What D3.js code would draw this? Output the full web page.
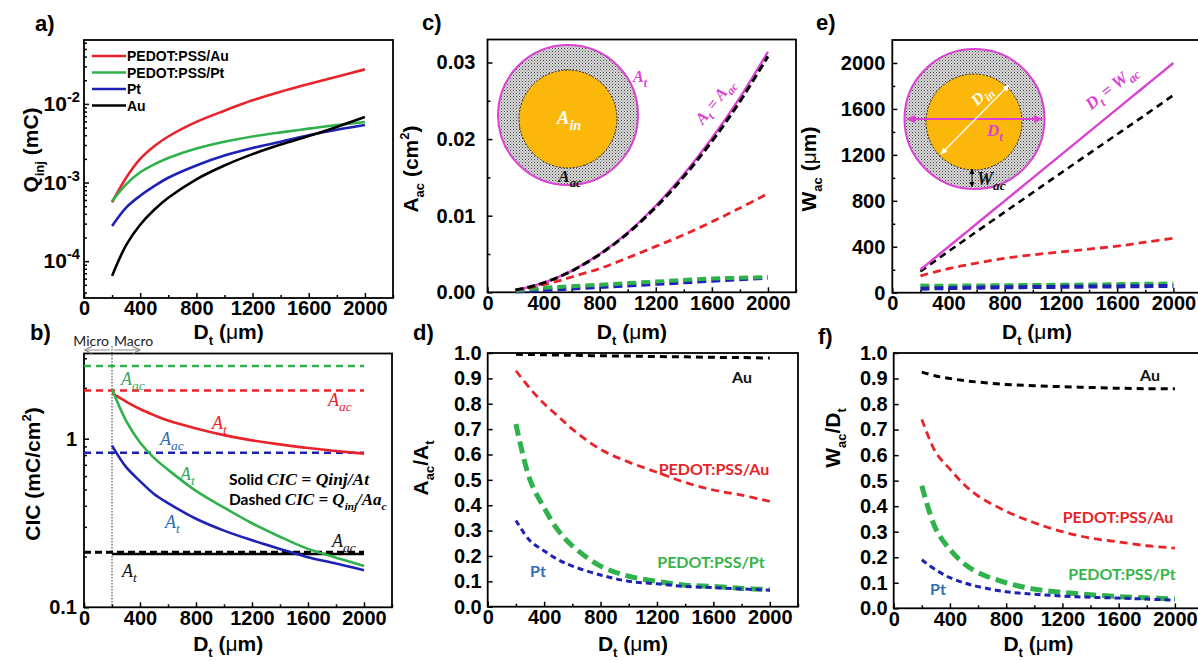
<!DOCTYPE html>
<html><head><meta charset="utf-8">
<script src="https://cdn.jsdelivr.net/npm/d3@7"></script>
<style>body{margin:0;background:#fff} svg{display:block}</style>
</head><body><script>
// ---------- data ----------
const D = [200,300,400,500,600,800,1000,1200,1400,1600,1800,2000];
const Dfull = [0, 2000];
const xMajor = [0,400,800,1200,1600,2000];
const xMinor = [200,600,1000,1400,1800,2200];

// a) injected charge Q_inj (mC)
const qRed   = [5.6e-4,1.15e-3,2.0e-3,2.9e-3,3.85e-3,5.9e-3,8.2e-3,1.11e-2,1.43e-2,1.79e-2,2.22e-2,2.75e-2];
const qGreen = [5.8e-4,9.5e-4,1.35e-3,1.7e-3,2.05e-3,2.7e-3,3.3e-3,3.85e-3,4.35e-3,4.85e-3,5.4e-3,5.9e-3];
const qBlue  = [2.8e-4,4.8e-4,6.8e-4,9.0e-4,1.15e-3,1.65e-3,2.2e-3,2.75e-3,3.3e-3,4.0e-3,4.7e-3,5.4e-3];
const qBlack = [6.5e-5,1.6e-4,2.9e-4,4.5e-4,6.4e-4,1.1e-3,1.65e-3,2.3e-3,3.05e-3,3.9e-3,5.1e-3,6.8e-3];
const legendNames = ["PEDOT:PSS/Au","PEDOT:PSS/Pt","Pt","Au"];
const qTicks = [1e-4,1e-3,1e-2];

// b) CIC (mC/cm2): solid = per total area, dashed = per active area
const cicRed   = [1.86,1.66,1.50,1.38,1.28,1.15,1.05,0.977,0.925,0.88,0.845,0.815];
const cicGreen = [1.97,1.28,0.95,0.77,0.655,0.49,0.39,0.315,0.262,0.222,0.197,0.176];
const cicBlue  = [0.91,0.68,0.56,0.47,0.415,0.335,0.285,0.25,0.222,0.198,0.182,0.166];
const cicBlack = [0.207,0.207,0.207,0.207,0.207,0.207,0.207,0.207,0.207,0.207,0.207,0.207];
const cicAcGreen = [2.7, 2.7];
const cicAcRed   = [1.93, 1.93];
const cicAcBlue  = [0.826, 0.826];
const cicAcBlack = [0.212, 0.212];
const cicTicks = [0.1, 1];

// c) active area A_ac (cm2)
const aTotal = [0.0003,0.0007,0.00125,0.00195,0.0028,0.005,0.0078,0.0113,0.0154,0.0201,0.0254,0.0314];
const aAu    = [0.0003,0.0007,0.00124,0.00193,0.00277,0.00495,0.0077,0.0111,0.0151,0.0197,0.0249,0.0308];
const aRed   = [0.0003,0.0006,0.001,0.00145,0.002,0.0031,0.0045,0.006,0.0075,0.0092,0.011,0.0129];
const aGreen = [0.0002,0.0004,0.0006,0.0007,0.0008,0.001,0.0012,0.0014,0.0016,0.0018,0.0019,0.002];
const aBlue  = [0.0001,0.0002,0.0003,0.0004,0.0005,0.0007,0.0009,0.0011,0.0013,0.0015,0.0017,0.0019];
const aTicks = [0, 0.01, 0.02, 0.03];

// d) A_ac / A_t
const rAu    = [0.995,0.994,0.993,0.992,0.991,0.989,0.988,0.986,0.985,0.983,0.982,0.98];
const rRed   = [0.93,0.86,0.80,0.75,0.70,0.62,0.57,0.53,0.49,0.46,0.44,0.415];
const rGreen = [0.72,0.50,0.39,0.30,0.24,0.16,0.12,0.10,0.085,0.08,0.072,0.068];
const rBlue  = [0.34,0.26,0.22,0.185,0.16,0.125,0.10,0.09,0.08,0.075,0.07,0.065];
const ratioTicks = [0,0.1,0.2,0.3,0.4,0.5,0.6,0.7,0.8,0.9,1.0];

// e) active width W_ac (um)
const wTotal = [200,300,400,500,600,800,1000,1200,1400,1600,1800,2000];
const wAu    = [185,273,360,446,532,702,872,1042,1211,1379,1548,1720];
const wRed   = [146,180,210,235,258,300,330,355,380,405,440,474];
const wGreen = [62,60,60,62,63,65,67,69,71,74,77,80];
const wBlue  = [35,38,40,42,44,47,49,51,53,55,57,58];
const wTicks = [0,400,800,1200,1600,2000];

// f) W_ac / D_t
const fAu    = [0.925,0.91,0.90,0.892,0.886,0.877,0.872,0.868,0.865,0.862,0.86,0.86];
const fRed   = [0.74,0.61,0.545,0.485,0.44,0.38,0.335,0.30,0.275,0.26,0.245,0.236];
const fGreen = [0.48,0.31,0.23,0.175,0.14,0.10,0.075,0.062,0.053,0.046,0.041,0.036];
const fBlue  = [0.19,0.15,0.12,0.10,0.085,0.065,0.055,0.048,0.043,0.04,0.036,0.032];

// ---------- styles ----------
const SANS = "'Liberation Sans', Arial, sans-serif";
const SERIF = "'Liberation Serif', 'Times New Roman', serif";
const NOTE = "Lato, 'Open Sans', sans-serif";
const RED = "#e8232a", GREEN = "#2fb24c", BLUE = "#1e22b4", BLACK = "#000", PINK = "#d942d2";
const LBLUE = "#2f6db5", LGREEN = "#36b54a";
const TICK = 20;

const svg = d3.select("body").append("svg").attr("width",1198).attr("height",661);
const defs = svg.append("defs");

// stippled ring texture
const pat = defs.append("pattern").attr("id","stipple").attr("width",3).attr("height",3)
  .attr("patternUnits","userSpaceOnUse");
pat.append("rect").attr("width",3).attr("height",3).attr("fill","#d8d8d8");
pat.append("rect").attr("x",0).attr("y",0).attr("width",1).attr("height",1).attr("fill","#444");
pat.append("rect").attr("x",1.5).attr("y",1.5).attr("width",1).attr("height",1).attr("fill","#777");

function marker(id, color, open, size) {
  const m = defs.append("marker").attr("id",id).attr("viewBox","0 0 10 10")
    .attr("refX",9).attr("refY",5).attr("markerWidth",size).attr("markerHeight",size)
    .attr("markerUnits","userSpaceOnUse").attr("orient","auto-start-reverse");
  if (open) m.append("path").attr("d","M1,1 L9,5 L1,9").attr("fill","none").attr("stroke",color).attr("stroke-width",1.3);
  else m.append("path").attr("d","M0,0.5 L10,5 L0,9.5 Z").attr("fill",color);
}
marker("arrGray","#8a8a8a",true,9);
marker("arrPink",PINK,false,9);
marker("arrWhite","#fff",false,7);
marker("arrBlack","#000",false,6);

// text with sub/superscripts
function rich(parent, x, y, segs, o = {}) {
  const size = o.size || 19;
  const t = parent.append("text").attr("x",x).attr("y",y)
    .attr("font-family",o.family || SANS).attr("font-size",size)
    .attr("font-weight",o.weight || "bold").attr("fill",o.fill || "#000")
    .attr("text-anchor",o.anchor || "start");
  if (o.italic) t.attr("font-style","italic");
  if (o.rotate != null) t.attr("transform",`rotate(${o.rotate},${x},${y})`);
  let shift = 0;
  segs.forEach(s => {
    if (typeof s === "string") s = {t:s};
    const target = s.sub ? size*0.3 : s.sup ? -size*0.42 : 0;
    const ts = t.append("tspan").text(s.t);
    if (target !== shift) ts.attr("dy", target - shift);
    shift = target;
    if (s.sub || s.sup) ts.attr("font-size", size*(s.scale || 0.62));
    if (s.size) ts.attr("font-size", s.size);
    if (s.family) ts.attr("font-family", s.family);
    if (s.weight) ts.attr("font-weight", s.weight);
    if (s.italic) ts.attr("font-style","italic");
    if (s.fill) ts.attr("fill", s.fill);
  });
  return t;
}

function styleAxis(s) {
  s.select(".domain").remove();
  s.selectAll("line").attr("stroke","#000").attr("stroke-width",1.5);
  s.selectAll("text").attr("font-family",SANS).attr("font-size",TICK)
    .attr("font-weight","bold").attr("fill","#000");
}

function panel(box, y, yMajor, yMinor, yFmt, yPad) {
  const g = svg.append("g");
  const x = d3.scaleLinear().domain([0,2200]).range([box.l, box.r]);
  g.append("g").attr("transform",`translate(0,${box.b})`)
    .call(d3.axisBottom(x).tickValues(xMajor).tickSize(-5).tickPadding(3).tickFormat(d3.format("d")))
    .call(styleAxis);
  g.append("g").attr("transform",`translate(0,${box.b})`)
    .call(d3.axisBottom(x).tickValues(xMinor).tickSize(-3).tickFormat(""))
    .call(styleAxis);
  g.append("g").attr("transform",`translate(${box.l},0)`)
    .call(d3.axisLeft(y).tickValues(yMajor).tickSize(-5).tickPadding(yPad || 7).tickFormat(yFmt || ""))
    .call(styleAxis);
  if (yMinor) g.append("g").attr("transform",`translate(${box.l},0)`)
    .call(d3.axisLeft(y).tickValues(yMinor).tickSize(-3).tickFormat(""))
    .call(styleAxis);
  g.append("rect").attr("x",box.l).attr("y",box.t).attr("width",box.r-box.l).attr("height",box.b-box.t)
    .attr("fill","none").attr("stroke","#000").attr("stroke-width",1.8);
  return {g, x, y, box};
}

function curve(p, xs, ys, color, width, dash) {
  const ln = d3.line().x(d => p.x(d[0])).y(d => p.y(d[1])).curve(d3.curveCatmullRom.alpha(0.5));
  const path = p.g.append("path").datum(d3.zip(xs, ys)).attr("d", ln)
    .attr("fill","none").attr("stroke",color).attr("stroke-width",width)
    .attr("stroke-linecap","butt");
  if (dash) path.attr("stroke-dasharray", dash);
  return path;
}

function xTitle(p, yBase) {
  rich(svg, p.x(1030), yBase, ["D", {t:"t", sub:true}, " (", {t:"\u03BC", weight:"normal"}, "m)"],
    {anchor:"middle", size:21});
}
function yTitle(xBase, yc, segs) {
  rich(svg, xBase, yc, segs, {anchor:"middle", size:21, rotate:-90});
}
function letter(x, y, s) {
  svg.append("text").attr("x",x).attr("y",y).text(s).attr("font-family",SANS)
    .attr("font-size",22).attr("font-weight","bold");
}

// ---------- a) Q_inj ----------
const yA = d3.scaleLog().domain([3.4e-5, 0.065]).range([298, 40]);
const qMinor = [];
[-5,-4,-3,-2].forEach(e => d3.range(2,10).forEach(m => {
  const v = m * Math.pow(10, e);
  if (v > 3.4e-5 && v < 0.065) qMinor.push(v);
}));
const pA = panel({l:84, r:393, t:40, b:298}, yA, qTicks, qMinor, () => "");
qTicks.forEach(v => {
  rich(svg, 80, yA(v) + 7, ["10", {t:"-" + Math.round(-Math.log10(v)), sup:true, scale:0.7}],
    {anchor:"end", size:21});
});
curve(pA, D, qRed, RED, 2.6);
curve(pA, D, qGreen, GREEN, 2.6);
curve(pA, D, qBlue, BLUE, 2.6);
curve(pA, D, qBlack, BLACK, 2.6);
// legend
[RED, GREEN, BLUE, BLACK].forEach((c, i) => {
  const yy = 56 + i * 16.5;
  pA.g.append("line").attr("x1",92).attr("x2",126).attr("y1",yy).attr("y2",yy)
    .attr("stroke",c).attr("stroke-width",2.6);
  pA.g.append("text").attr("x",127).attr("y",yy + 5).text(legendNames[i])
    .attr("font-family",SANS).attr("font-weight","bold").attr("font-size",14);
});
xTitle(pA, 339);
yTitle(38, 150, ["Q", {t:"inj", sub:true}, " (mC)"]);
letter(35, 31, "a)");

// ---------- b) CIC ----------
const yB = d3.scaleLog().domain([0.1, 3.2]).range([607.3, 353.5]);
const pB = panel({l:84, r:392, t:353.5, b:607.3}, yB, cicTicks, [0.2,0.3,0.4,0.5,0.6,0.7,0.8,0.9,2,3],
  d => d === 1 ? "1" : "0.1");
// micro / macro boundary
pB.g.append("line").attr("x1",pB.x(200)).attr("x2",pB.x(200)).attr("y1",346).attr("y2",607)
  .attr("stroke","#333").attr("stroke-width",1).attr("stroke-dasharray","1.5,1.5");
pB.g.append("line").attr("x1",pB.x(185)).attr("x2",pB.x(5)).attr("y1",350).attr("y2",350)
  .attr("stroke","#8a8a8a").attr("stroke-width",1).attr("marker-end","url(#arrGray)");
pB.g.append("line").attr("x1",pB.x(215)).attr("x2",pB.x(400)).attr("y1",350).attr("y2",350)
  .attr("stroke","#8a8a8a").attr("stroke-width",1).attr("marker-end","url(#arrGray)");
svg.append("text").attr("x",109).attr("y",346).attr("text-anchor","end").text("Micro")
  .attr("font-family",NOTE).attr("font-size",14).attr("fill","#222");
svg.append("text").attr("x",114).attr("y",346).text("Macro")
  .attr("font-family",NOTE).attr("font-size",14).attr("fill","#222");
curve(pB, Dfull, cicAcGreen, GREEN, 2.5, "7,5");
curve(pB, Dfull, cicAcRed, RED, 2.5, "7,5");
curve(pB, Dfull, cicAcBlue, BLUE, 2.5, "7,5");
curve(pB, D, cicBlack, BLACK, 2.6);
curve(pB, Dfull, cicAcBlack, BLACK, 3, "7,4");
curve(pB, D, cicRed, RED, 2.6);
curve(pB, D, cicBlue, BLUE, 2.6);
curve(pB, D, cicGreen, GREEN, 2.6);
const mathLbl = (x, y, sub, fill) =>
  rich(svg, x, y, ["A", {t:sub, sub:true, scale:0.75}], {family:SERIF, italic:true, weight:"normal", size:18, fill});
mathLbl(121, 385, "ac", "#3aa665");
mathLbl(328, 406, "ac", RED);
mathLbl(212, 429, "t", RED);
mathLbl(160, 445, "ac", LBLUE);
mathLbl(180, 480, "t", "#3aa665");
mathLbl(165, 528, "t", LBLUE);
mathLbl(332, 547, "ac", "#111");
mathLbl(122, 577, "t", "#111");
rich(svg, 229, 485, [{t:"Solid  ", family:NOTE},
  {t:"CIC = Qinj/At", family:SERIF, italic:true, size:17.5}], {size:15.5});
rich(svg, 229, 505, [{t:"Dashed ", family:NOTE},
  {t:"CIC = Q", family:SERIF, italic:true, size:17}, {t:"inj", sub:true, family:SERIF, italic:true, scale:0.72},
  {t:"/Aa", family:SERIF, italic:true, size:17}, {t:"c", sub:true, family:SERIF, italic:true, scale:0.72}], {size:15.5});
yTitle(40, 474, ["CIC (mC/cm", {t:"2", sup:true}, ")"]);
letter(30, 340, "b)");
xTitle(pB, 651);

// ---------- c) A_ac ----------
const yC = d3.scaleLinear().domain([0, 0.033]).range([292.3, 39.5]);
const pC = panel({l:487.5, r:796, t:39.5, b:292.3}, yC, aTicks,
  [0.005,0.015,0.025], d3.format(".2f"), 12);
// inset: electrode cross-section
pC.g.append("circle").attr("cx",568).attr("cy",115).attr("r",70)
  .attr("fill","url(#stipple)").attr("stroke",PINK).attr("stroke-width",2);
pC.g.append("circle").attr("cx",568).attr("cy",119).attr("r",49)
  .attr("fill","#fbb70a").attr("stroke","#222").attr("stroke-width",1).attr("stroke-dasharray","2,1.5");
rich(svg, 569, 124, ["A", {t:"in", sub:true, scale:0.75}], {family:SERIF, italic:true, size:19, fill:"#fff", anchor:"middle"});
rich(svg, 633, 82, ["A", {t:"t", sub:true, scale:0.75}], {family:SERIF, italic:true, size:16, fill:PINK});
rich(svg, 570, 182, ["A", {t:"ac", sub:true, scale:0.75}], {family:SERIF, italic:true, size:17, fill:"#111", anchor:"middle"});
curve(pC, D, aBlue, BLUE, 4, "9,5");
curve(pC, D, aGreen, GREEN, 4, "9,5");
curve(pC, D, aRed, RED, 2.8, "8,5");
curve(pC, D, aTotal, PINK, 2.4);
curve(pC, D, aAu, BLACK, 3, "8,4");
rich(svg, pC.x(1650), pC.y(0.0245), ["A", {t:"t", sub:true, scale:0.75}, " = A", {t:"ac", sub:true, scale:0.75}],
  {family:SERIF, italic:true, size:16, fill:PINK, anchor:"middle", rotate:-52});
xTitle(pC, 339);
yTitle(418, 169, ["A", {t:"ac", sub:true}, " (cm", {t:"2", sup:true}, ")"]);
letter(422, 30, "c)");

// ---------- d) A_ac/A_t ----------
const yD = d3.scaleLinear().domain([0, 1.0]).range([606.7, 353]);
const pD = panel({l:487.7, r:798, t:353, b:606.7}, yD, ratioTicks, null, d3.format(".1f"), 6);
curve(pD, D, rAu, BLACK, 3, "7,5");
curve(pD, D, rRed, RED, 2.8, "8,5");
curve(pD, D, rGreen, GREEN, 5, "12,6");
curve(pD, D, rBlue, BLUE, 3, "6,4");
const note = (x, y, s, fill) => svg.append("text").attr("x",x).attr("y",y).text(s)
  .attr("font-family",NOTE).attr("font-weight","bold").attr("font-size",16)
  .attr("fill",fill).attr("text-anchor","middle");
note(742, 383, "Au", "#111");
note(714, 475, "PEDOT:PSS/Au", RED);
note(711, 568, "PEDOT:PSS/Pt", LGREEN);
note(538, 577, "Pt", LBLUE);
yTitle(428, 468, ["A", {t:"ac", sub:true}, "/A", {t:"t", sub:true}]);
letter(413, 340, "d)");
xTitle(pD, 651);

// ---------- e) W_ac ----------
const yE = d3.scaleLinear().domain([0, 2200]).range([292.7, 40]);
const pE = panel({l:892.3, r:1201.5, t:40, b:292.7}, yE, wTicks,
  [200,600,1000,1400,1800], d3.format("d"), 7);
// inset: electrode diameter and active width
pE.g.append("circle").attr("cx",974.5).attr("cy",119).attr("r",70)
  .attr("fill","url(#stipple)").attr("stroke",PINK).attr("stroke-width",2);
pE.g.append("circle").attr("cx",974).attr("cy",122).attr("r",48)
  .attr("fill","#fbb70a").attr("stroke","#222").attr("stroke-width",1).attr("stroke-dasharray","2,1.5");
pE.g.append("line").attr("x1",907).attr("x2",1042).attr("y1",119).attr("y2",119)
  .attr("stroke",PINK).attr("stroke-width",2).attr("marker-start","url(#arrPink)").attr("marker-end","url(#arrPink)");
pE.g.append("line").attr("x1",941).attr("x2",1009).attr("y1",154).attr("y2",85)
  .attr("stroke","#fff").attr("stroke-width",1.3).attr("marker-start","url(#arrWhite)").attr("marker-end","url(#arrWhite)");
pE.g.append("line").attr("x1",972).attr("x2",972).attr("y1",169).attr("y2",187)
  .attr("stroke","#000").attr("stroke-width",1).attr("marker-start","url(#arrBlack)").attr("marker-end","url(#arrBlack)");
rich(svg, 985, 99, ["D", {t:"in", sub:true, scale:0.75}], {family:SERIF, italic:true, size:16, fill:"#fff", anchor:"middle", rotate:-44});
rich(svg, 995, 136, ["D", {t:"t", sub:true, scale:0.75}], {family:SERIF, italic:true, size:17, fill:PINK, anchor:"middle"});
rich(svg, 977, 185, ["W", {t:"ac", sub:true, scale:0.75}], {family:SERIF, italic:true, size:18, fill:"#111"});
curve(pE, D, wGreen, GREEN, 4, "9,5");
curve(pE, D, wBlue, BLUE, 4, "9,5");
curve(pE, D, wRed, RED, 2.8, "8,5");
curve(pE, D, wAu, BLACK, 2.6, "7,5");
curve(pE, D, wTotal, PINK, 2.4);
rich(svg, pE.x(1582), pE.y(1752), ["D", {t:"t", sub:true, scale:0.75}, " = W", {t:"ac", sub:true, scale:0.75}],
  {family:SERIF, italic:true, size:17, fill:PINK, anchor:"middle", rotate:-39});
xTitle(pE, 339);
yTitle(816, 169, ["W", {t:"ac", sub:true}, " (", {t:"\u03BC", weight:"normal"}, "m)"]);
letter(816, 30, "e)");

// ---------- f) W_ac/D_t ----------
const yF = d3.scaleLinear().domain([0, 1.0]).range([608.3, 353]);
const pF = panel({l:893.7, r:1203, t:353, b:608.3}, yF, ratioTicks, null, d3.format(".1f"), 6);
curve(pF, D, fAu, BLACK, 3, "7,5");
curve(pF, D, fRed, RED, 2.8, "8,5");
curve(pF, D, fGreen, GREEN, 5, "12,6");
curve(pF, D, fBlue, BLUE, 3, "6,4");
note(1150, 381, "Au", "#111");
note(1118, 523, "PEDOT:PSS/Au", RED);
note(1122, 580, "PEDOT:PSS/Pt", LGREEN);
note(938, 595, "Pt", LBLUE);
yTitle(840, 438, ["W", {t:"ac", sub:true}, "/D", {t:"t", sub:true}]);
letter(818, 344, "f)");
xTitle(pF, 651);
</script></body></html>
